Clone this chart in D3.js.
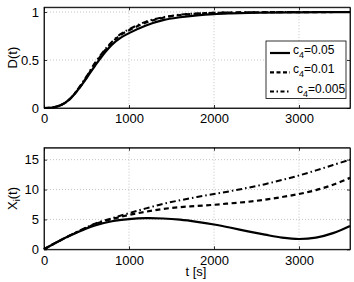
<!DOCTYPE html>
<html>
<head>
<meta charset="utf-8">
<script src="https://d3js.org/d3.v7.min.js"></script>
<style>
  body { margin: 0; background: white; }
  text { font-family: "Liberation Sans", Arial, sans-serif; fill: #000; }
</style>
</head>
<body>
<svg id="chart" width="354" height="282"></svg>
<script>
// time samples [s]
var timeD = [0, 100, 200, 300, 400, 500, 600, 700, 800, 900, 1000, 1200, 1400, 1600, 1800, 2000, 2200, 2500, 3000, 3600];
var dSolid   = [0, 0.005, 0.03, 0.09, 0.19, 0.31, 0.44, 0.56, 0.66, 0.73, 0.78, 0.86, 0.915, 0.945, 0.965, 0.978, 0.985, 0.992, 0.997, 0.999];
var dDashed  = [0, 0.005, 0.03, 0.09, 0.19, 0.32, 0.46, 0.58, 0.68, 0.76, 0.81, 0.89, 0.94, 0.968, 0.982, 0.99, 0.994, 0.997, 0.999, 1.0];
var dDashDot = [0, 0.005, 0.03, 0.09, 0.2, 0.33, 0.47, 0.59, 0.69, 0.77, 0.82, 0.9, 0.945, 0.972, 0.985, 0.992, 0.995, 0.998, 0.999, 1.0];

var timeX = [0, 100, 200, 300, 400, 500, 600, 800, 1000, 1200, 1400, 1600, 1800, 2000, 2200, 2400, 2600, 2800, 3000, 3200, 3400, 3600];
var xSolid   = [0, 0.8, 1.55, 2.25, 2.9, 3.5, 4.0, 4.7, 5.05, 5.2, 5.15, 4.95, 4.6, 4.15, 3.6, 3.0, 2.45, 1.95, 1.72, 1.95, 2.7, 3.9];
var xDashed  = [0, 0.8, 1.55, 2.25, 2.95, 3.6, 4.2, 5.05, 5.75, 6.3, 6.75, 7.05, 7.25, 7.45, 7.7, 7.95, 8.3, 8.75, 9.25, 9.9, 10.8, 11.95];
var xDashDot = [0, 0.8, 1.55, 2.3, 3.0, 3.65, 4.3, 5.2, 6.05, 6.85, 7.6, 8.2, 8.75, 9.25, 9.75, 10.3, 10.9, 11.6, 12.35, 13.2, 14.1, 15.0];

var legendLabels = ["0.05", "0.01", "0.005"];
var xTicks = [0, 1000, 2000, 3000];
var dTicks = [0, 0.5, 1];
var xiTicks = [0, 5, 10, 15];

var styles = [
  { dash: null, width: 2.2 },
  { dash: "5,3.5", width: 2.2 },
  { dash: "6,3,1.5,3", width: 2 }
];

var svg = d3.select("#chart");
var x = d3.scaleLinear().domain([0, 3600]).range([44, 350]);

function panel(top, bottom, yDomain, yTicks, yFmt, time, series, label, subscript) {
  var y = d3.scaleLinear().domain(yDomain).range([bottom, top]);
  var g = svg.append("g");

  // dotted grid
  g.selectAll(".gx").data(xTicks.slice(1)).enter().append("line")
    .attr("x1", d => x(d)).attr("x2", d => x(d))
    .attr("y1", top).attr("y2", bottom)
    .attr("stroke", "#b5b5b5").attr("stroke-width", 0.8).attr("stroke-dasharray", "1,2");
  g.selectAll(".gy").data(yTicks.slice(1)).enter().append("line")
    .attr("x1", x(0)).attr("x2", x(3600))
    .attr("y1", d => y(d)).attr("y2", d => y(d))
    .attr("stroke", "#b5b5b5").attr("stroke-width", 0.8).attr("stroke-dasharray", "1,2");

  // curves
  var line = d3.line().x((d, i) => x(time[i])).y(d => y(d)).curve(d3.curveCatmullRom);
  series.forEach(function (s, k) {
    g.append("path").datum(s)
      .attr("d", line)
      .attr("fill", "none")
      .attr("stroke", "#000")
      .attr("stroke-width", styles[k].width)
      .attr("stroke-dasharray", styles[k].dash);
  });

  // axes with inward ticks, mirrored
  g.append("g").attr("transform", "translate(0," + bottom + ")")
    .call(d3.axisBottom(x).tickValues(xTicks).tickSizeInner(-3).tickSizeOuter(0).tickPadding(6).tickFormat(d3.format("d")))
    .call(a => a.selectAll("text").attr("font-size", 13).attr("font-family", "Liberation Sans, Arial, sans-serif"));
  g.append("g").attr("transform", "translate(0," + top + ")")
    .call(d3.axisTop(x).tickValues(xTicks).tickSizeInner(-3).tickSizeOuter(0).tickFormat(""));
  g.append("g").attr("transform", "translate(" + x(0) + ",0)")
    .call(d3.axisLeft(y).tickValues(yTicks).tickSizeInner(-3).tickSizeOuter(0).tickPadding(5).tickFormat(yFmt))
    .call(a => a.selectAll("text").attr("font-size", 13).attr("font-family", "Liberation Sans, Arial, sans-serif"));
  g.append("g").attr("transform", "translate(" + x(3600) + ",0)")
    .call(d3.axisRight(y).tickValues(yTicks).tickSizeInner(-3).tickSizeOuter(0).tickFormat(""));
  g.selectAll(".domain").attr("stroke", "#000").attr("stroke-width", 0.8);
  g.selectAll(".tick line").attr("stroke", "#000").attr("stroke-width", 0.8);

  // frame
  g.append("rect").attr("x", x(0)).attr("y", top)
    .attr("width", x(3600) - x(0)).attr("height", bottom - top)
    .attr("fill", "none").attr("stroke", "#000").attr("stroke-width", 0.8);

  // y label
  var t = g.append("text")
    .attr("transform", "translate(17," + ((top + bottom) / 2) + ") rotate(-90)")
    .attr("text-anchor", "middle").attr("font-size", 13);
  t.append("tspan").text(label);
  if (subscript) {
    t.append("tspan").attr("font-size", 9).attr("dy", 3).text(subscript);
    t.append("tspan").attr("dy", -3).text("(t)");
  }
  return y;
}

panel(7.2, 108, [0, 1.05], dTicks, d3.format("~g"), timeD, [dSolid, dDashed, dDashDot], "D(t)", null);
panel(147.7, 249.3, [0, 17], xiTicks, d3.format("d"), timeX, [xSolid, xDashed, xDashDot], "X", "i");

// x label
svg.append("text").attr("x", 196).attr("y", 276).attr("text-anchor", "middle")
  .attr("font-size", 13).text("t [s]");

// legend
var lg = svg.append("g");
lg.append("rect").attr("x", 266).attr("y", 41).attr("width", 80).attr("height", 57.5)
  .attr("fill", "white").attr("stroke", "#000").attr("stroke-width", 0.8);
legendLabels.forEach(function (lab, k) {
  var cy = 52 + k * 19.3;
  lg.append("line").attr("x1", 270).attr("x2", 290).attr("y1", cy + 1).attr("y2", cy + 1)
    .attr("stroke", "#000").attr("stroke-width", styles[k].width)
    .attr("stroke-dasharray", styles[k].dash === null ? null : (k === 1 ? "4,2.5" : "4,2.5,1.5,2.5"));
  var t = lg.append("text").attr("x", k === 2 ? 297 : 293).attr("y", cy + 2).attr("font-size", 12);
  t.append("tspan").text("c");
  t.append("tspan").attr("font-size", 9).attr("dy", 4).text("4");
  t.append("tspan").attr("dy", -4).text("=" + lab);
});
</script>
</body>
</html>
